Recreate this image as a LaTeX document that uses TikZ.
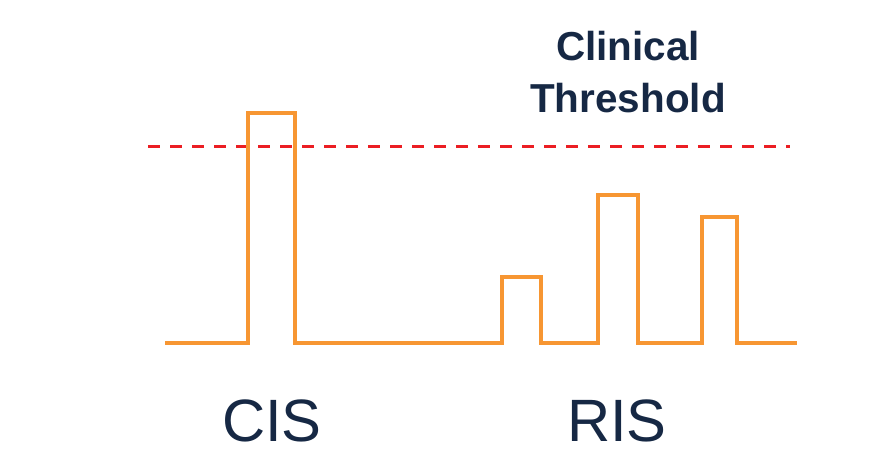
\documentclass[tikz,border=0pt]{standalone}
\usepackage{fontspec}
\setmainfont{Liberation Sans}
\definecolor{pulseorange}{RGB}{247,150,50}
\definecolor{navytext}{RGB}{22,40,68}
\definecolor{threshred}{RGB}{235,30,35}
\begin{document}
\begin{tikzpicture}[x=0.01cm,y=-0.01cm,
  pulse/.style={draw=pulseorange,line width=0.45mm,line join=miter},
  thresh/.style={draw=threshred,line width=0.3mm,dash pattern=on 1.2mm off 1mm},
  grouplabel/.style={font=\fontsize{17pt}{20pt}\selectfont,text=navytext},
  titlelabel/.style={font=\bfseries\fontsize{11.5pt}{14.8pt}\selectfont,text=navytext,align=center}]
\useasboundingbox (0,0) rectangle (896,463);
% threshold line
\coordinate (tl) at (148,146);
\coordinate (tr) at (790,146);
\draw[thresh] (tl) -- (tr);
% signal
\draw[pulse] (165,343) -- (248,343) -- (248,113) -- (295,113) -- (295,343)
  -- (502,343) -- (502,277) -- (541,277) -- (541,343)
  -- (598,343) -- (598,195) -- (638,195) -- (638,343)
  -- (702,343) -- (702,217) -- (737,217) -- (737,343) -- (797,343);
% labels
\node[titlelabel] (title) at (628,72) {Clinical\\Threshold};
\node[grouplabel] (cis) at (272,421) {CIS};
\node[grouplabel] (ris) at (617,421) {RIS};
\end{tikzpicture}
\end{document}
